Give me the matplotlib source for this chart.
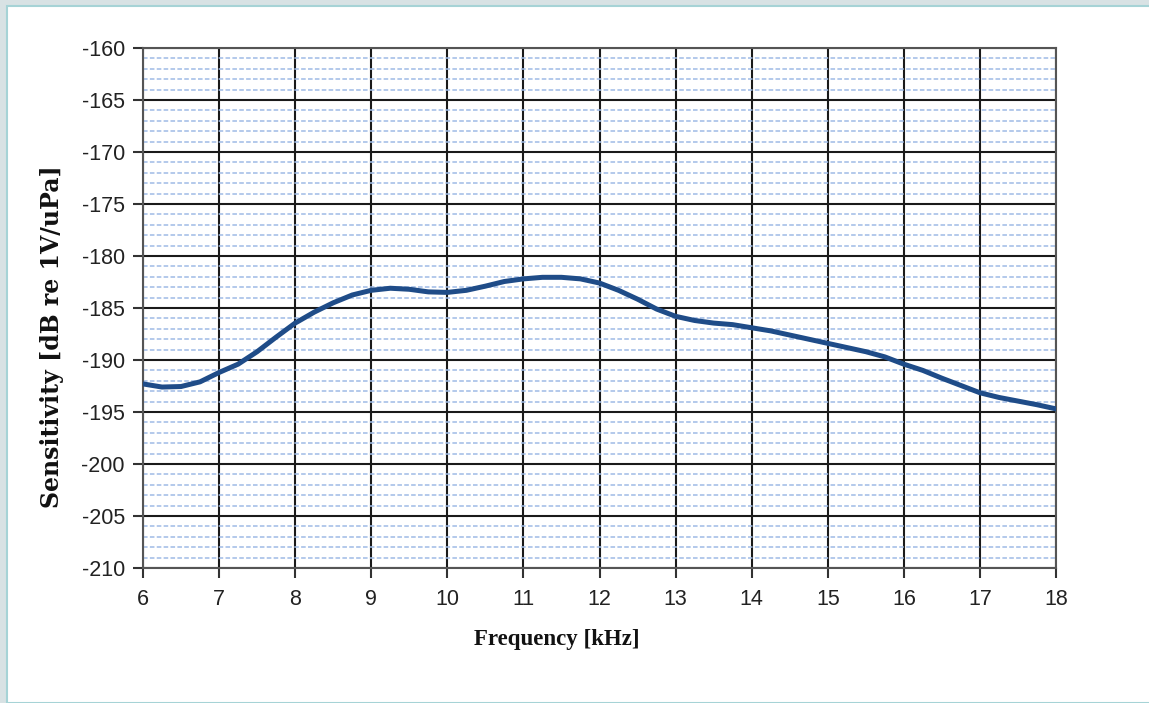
import matplotlib
matplotlib.use("Agg")
import matplotlib.pyplot as plt
from matplotlib.patches import Rectangle
import numpy as np

plt.rcParams["axes.unicode_minus"] = False

# Data
freq_khz = [6.0, 6.25, 6.5, 6.75, 7.0, 7.25, 7.5, 7.75, 8.0, 8.25, 8.5, 8.75,
            9.0, 9.25, 9.5, 9.75, 10.0, 10.25, 10.5, 10.75, 11.0, 11.25, 11.5, 11.75,
            12.0, 12.25, 12.5, 12.75, 13.0, 13.25, 13.5, 13.75, 14.0, 14.25, 14.5, 14.75,
            15.0, 15.25, 15.5, 15.75, 16.0, 16.25, 16.5, 16.75, 17.0, 17.25, 17.5, 17.75, 18.0]
sensitivity_db = [-192.3, -192.6, -192.55, -192.1, -191.2, -190.4, -189.2, -187.8,
                  -186.45, -185.4, -184.5, -183.75, -183.3, -183.1, -183.2, -183.45,
                  -183.5, -183.3, -182.9, -182.45, -182.2, -182.05, -182.05, -182.2,
                  -182.6, -183.3, -184.15, -185.1, -185.8, -186.2, -186.45, -186.6,
                  -186.9, -187.2, -187.6, -188.0, -188.4, -188.8, -189.2, -189.7,
                  -190.4, -191.0, -191.75, -192.45, -193.15, -193.6, -193.95, -194.3, -194.7]
x_ticks = list(range(6, 19))
y_ticks = list(range(-210, -159, 5))
y_minor = [v for v in range(-210, -159) if v % 5 != 0]

W, H = 1149, 703
fig = plt.figure(figsize=(W / 100, H / 100), dpi=100)
fig.patch.set_facecolor("#d8e2e4")
# white panel with teal border
fig.patches.append(Rectangle((7 / W, 0), 1.0, 1 - 6 / H, transform=fig.transFigure,
                             facecolor="white", edgecolor="#a6d3d6", linewidth=1.5,
                             zorder=-10))

L, R, T, B = 143, 1056, 48, 568
ax = fig.add_axes([L / W, 1 - B / H, (R - L) / W, (B - T) / H])
ax.set_zorder(5)
ax.set_facecolor("white")

ax.set_xlim(6, 18)
ax.set_ylim(-210, -160)
ax.set_xticks(x_ticks)
ax.set_yticks(y_ticks)
ax.set_yticks(y_minor, minor=True)

# minor dashed grid
for v in y_minor:
    ax.axhline(v, color="#9fbbe6", linewidth=1.1, linestyle=(0, (3, 1.5)), zorder=1)
ax.grid(True, which="major", color="#1a1a1a", linewidth=1.5, zorder=2)
ax.set_axisbelow(True)

ax.plot(freq_khz, sensitivity_db, color="#1f4c88", linewidth=3.6, zorder=5,
        solid_capstyle="round", solid_joinstyle="round")

for s in ax.spines.values():
    s.set_color("#555555")
    s.set_linewidth(1.5)

ax.tick_params(axis="both", which="major", direction="out", length=7, width=1.5,
               color="#333333", labelsize=15.5, labelcolor="#222222")
ax.tick_params(axis="y", which="major", pad=6)
ax.tick_params(axis="x", which="major", pad=8)
ax.tick_params(axis="y", which="minor", length=0)
for lab in ax.get_xticklabels() + ax.get_yticklabels():
    lab.set_fontfamily("Liberation Sans")

fig.text(52 / W, 1 - 337 / H, "Sensitivity [dB re 1V/uPa]", rotation=90,
         ha="center", va="center", fontsize=17, fontweight="bold",
         family="DejaVu Serif", color="#111111")
fig.text(557 / W, 1 - 640 / H, "Frequency [kHz]", ha="center", va="center",
         fontsize=16.5, fontweight="bold", family="Liberation Serif", color="#111111")

fig.savefig("out.png", dpi=100, facecolor=fig.get_facecolor())
